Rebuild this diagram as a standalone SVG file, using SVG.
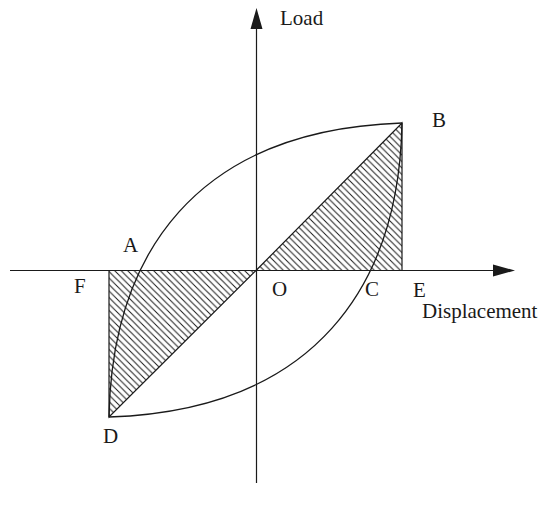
<svg xmlns="http://www.w3.org/2000/svg" width="540" height="513" viewBox="0 0 540 513">
<style>
.ax{stroke:#1a1a1a;stroke-width:1.2;fill:none}
.cv{stroke:#1a1a1a;stroke-width:1.3;fill:none}
.hat{fill:url(#hatch);stroke:#1a1a1a;stroke-width:1.2}
.lbl{font-family:"Liberation Serif","Times New Roman",serif;font-size:21px;fill:#1a1a1a}
</style>
<defs>
<pattern id="hatch" width="6.5" height="6.5" patternUnits="userSpaceOnUse">
<path d="M0,0 L6.5,6.5 M-1,5.5 L1,7.5 M5.5,-1 L7.5,1" stroke="#1a1a1a" stroke-width="1"/>
</pattern>
</defs>
<g id="regions">
<polygon id="triOBE" class="hat" points="256,270.5 402,123 402,270.5"/>
<polygon id="triOFD" class="hat" points="256,270.5 109,270.5 109,417"/>
</g>
<g id="axes">
<line class="ax" x1="256.5" y1="483" x2="256.5" y2="25"/>
<polygon points="256.5,8 250.5,29 262.5,29" fill="#1a1a1a"/>
<line class="ax" x1="10" y1="270.5" x2="497" y2="270.5"/>
<polygon points="515,270.5 493,264.5 493,276.5" fill="#1a1a1a"/>
</g>
<g id="connectors">
<path class="cv" d="M109,417 C112,255 195,130 402,123"/>
<path class="cv" d="M402,123 C399,285 316,410 109,417"/>
</g>
<g id="labels">
<text class="lbl" x="280" y="25">Load</text>
<text class="lbl" x="432" y="127">B</text>
<text class="lbl" x="123" y="252">A</text>
<text class="lbl" x="74" y="293">F</text>
<text class="lbl" x="272" y="296">O</text>
<text class="lbl" x="365" y="296">C</text>
<text class="lbl" x="413" y="297">E</text>
<text class="lbl" x="422" y="318">Displacement</text>
<text class="lbl" x="103" y="443">D</text>
</g>
</svg>
